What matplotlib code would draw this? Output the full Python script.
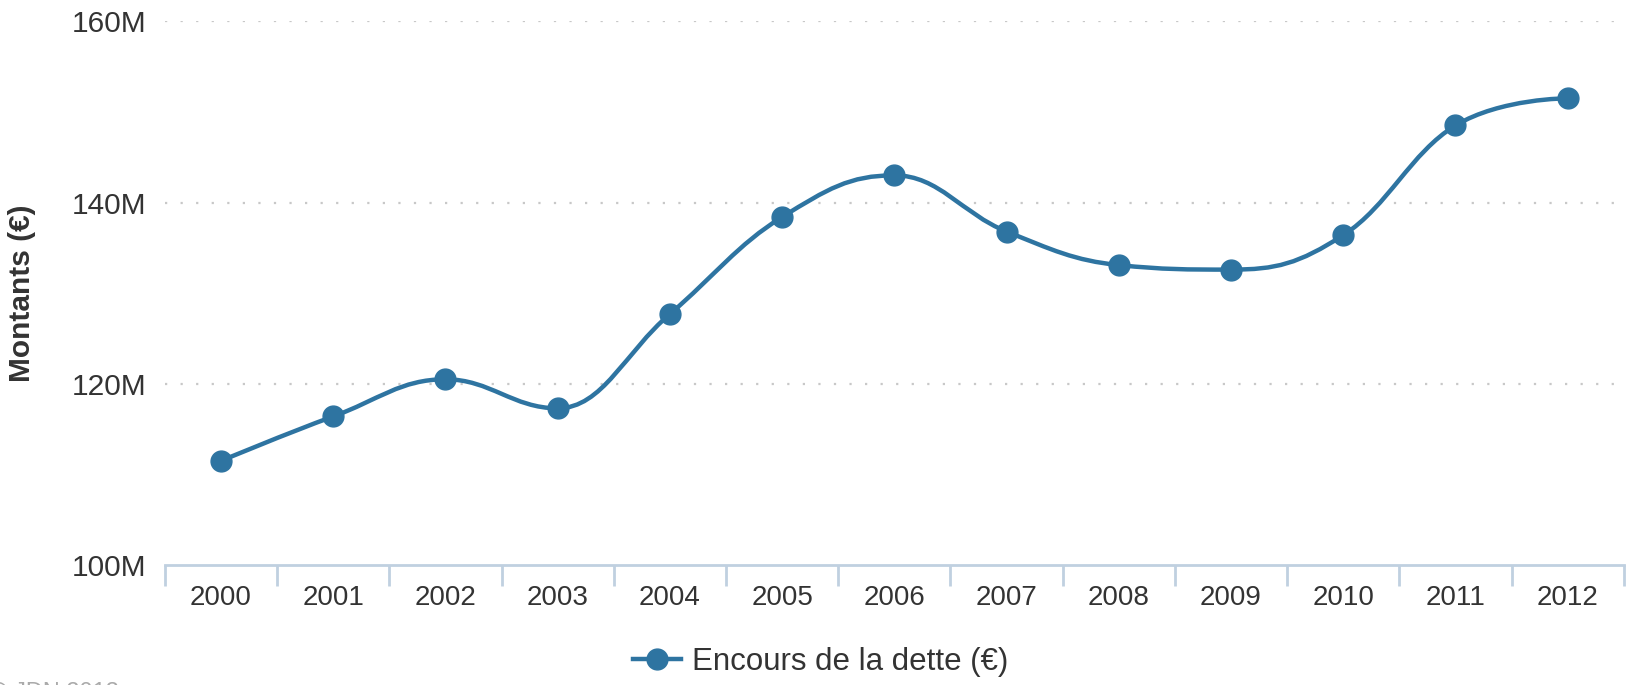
import numpy as np
import matplotlib.pyplot as plt
from matplotlib.path import Path
from matplotlib.patches import PathPatch
from matplotlib.lines import Line2D
from matplotlib.ticker import FuncFormatter, FixedLocator

plt.rcParams['font.family'] = ['Liberation Sans', 'DejaVu Sans']

years = ['2000', '2001', '2002', '2003', '2004', '2005', '2006',
         '2007', '2008', '2009', '2010', '2011', '2012']
encours = [111.5, 116.4, 120.5, 117.3, 127.7, 138.4, 143.0,
           136.8, 133.1, 132.6, 136.4, 148.5, 151.5]  # millions
series_name = 'Encours de la dette (€)'
ylabel = 'Montants (€)'
yticks = [100, 120, 140, 160]

color = '#2E74A1'
axis_color = '#C0D0E0'
text_color = '#333333'


def spline_path(x, y, smoothing=1.5):
    # cubic bezier segments, same smoothing rule as a Highcharts "spline"
    n = len(x)
    left = [(x[i], y[i]) for i in range(n)]
    right = [(x[i], y[i]) for i in range(n)]
    d = smoothing + 1
    for i in range(1, n - 1):
        lx = (smoothing * x[i] + x[i - 1]) / d
        ly = (smoothing * y[i] + y[i - 1]) / d
        rx = (smoothing * x[i] + x[i + 1]) / d
        ry = (smoothing * y[i] + y[i + 1]) / d
        corr = (ry - ly) * (rx - x[i]) / (rx - lx) + y[i] - ry
        ly += corr
        ry += corr
        if ly > y[i - 1] and ly > y[i]:
            ly = max(y[i - 1], y[i]); ry = 2 * y[i] - ly
        elif ly < y[i - 1] and ly < y[i]:
            ly = min(y[i - 1], y[i]); ry = 2 * y[i] - ly
        if ry > y[i + 1] and ry > y[i]:
            ry = max(y[i + 1], y[i]); ly = 2 * y[i] - ry
        elif ry < y[i + 1] and ry < y[i]:
            ry = min(y[i + 1], y[i]); ly = 2 * y[i] - ry
        left[i] = (lx, ly)
        right[i] = (rx, ry)
    verts = [(x[0], y[0])]
    codes = [Path.MOVETO]
    for i in range(1, n):
        verts += [right[i - 1], left[i], (x[i], y[i])]
        codes += [Path.CURVE4] * 3
    return Path(verts, codes)


fig = plt.figure(figsize=(16.32, 6.85), dpi=100)
ax = fig.add_axes([0.101, 0.175, 0.894, 0.794])

xs = np.arange(len(years), dtype=float)
ax.add_patch(PathPatch(spline_path(xs, encours), fill=False,
                       edgecolor=color, lw=3.2, capstyle='round',
                       joinstyle='round', zorder=3))
ax.plot(xs, encours, 'o', color=color, markersize=15, zorder=4)

ax.set_xlim(-0.5, len(years) - 0.5)
ax.set_ylim(100, 160)

ax.yaxis.set_major_locator(FixedLocator(yticks))
ax.yaxis.set_major_formatter(FuncFormatter(lambda v, p: f'{v:.0f}M'))
ax.set_xticks(xs)
ax.set_xticklabels(years)
ax.xaxis.set_minor_locator(FixedLocator(np.arange(-0.5, len(years), 1.0)))

for s in ['top', 'right', 'left']:
    ax.spines[s].set_visible(False)
ax.spines['bottom'].set_color(axis_color)
ax.spines['bottom'].set_linewidth(2)

ax.tick_params(axis='x', which='major', length=0, pad=14,
               labelsize=20, labelcolor=text_color)
ax.tick_params(axis='x', which='minor', length=15, width=2,
               color=axis_color)
ax.tick_params(axis='y', length=0, pad=13, labelsize=21.5,
               labelcolor=text_color)

for v in yticks[1:]:
    ax.axhline(v, color='#C8C8C8', lw=1.6, ls=(0, (1, 6)), zorder=1)

ax.set_ylabel(ylabel, fontsize=21.5, fontweight='bold', color=text_color)
ax.yaxis.set_label_coords(-0.088, 0.5)

handle = Line2D([], [], color=color, lw=3.2, marker='o', markersize=15)
leg = fig.legend([handle], [series_name], loc='center',
                 bbox_to_anchor=(0.503, 0.034), frameon=False,
                 fontsize=22.5, handlelength=1.55, handletextpad=0.35,
                 borderaxespad=0, borderpad=0)
for t in leg.get_texts():
    t.set_color(text_color)

fig.text(-0.006, -0.012, '© JDN 2013', fontsize=17, color='#AAAAAA',
         ha='left', va='center')

fig.savefig('out.png', dpi=100)
